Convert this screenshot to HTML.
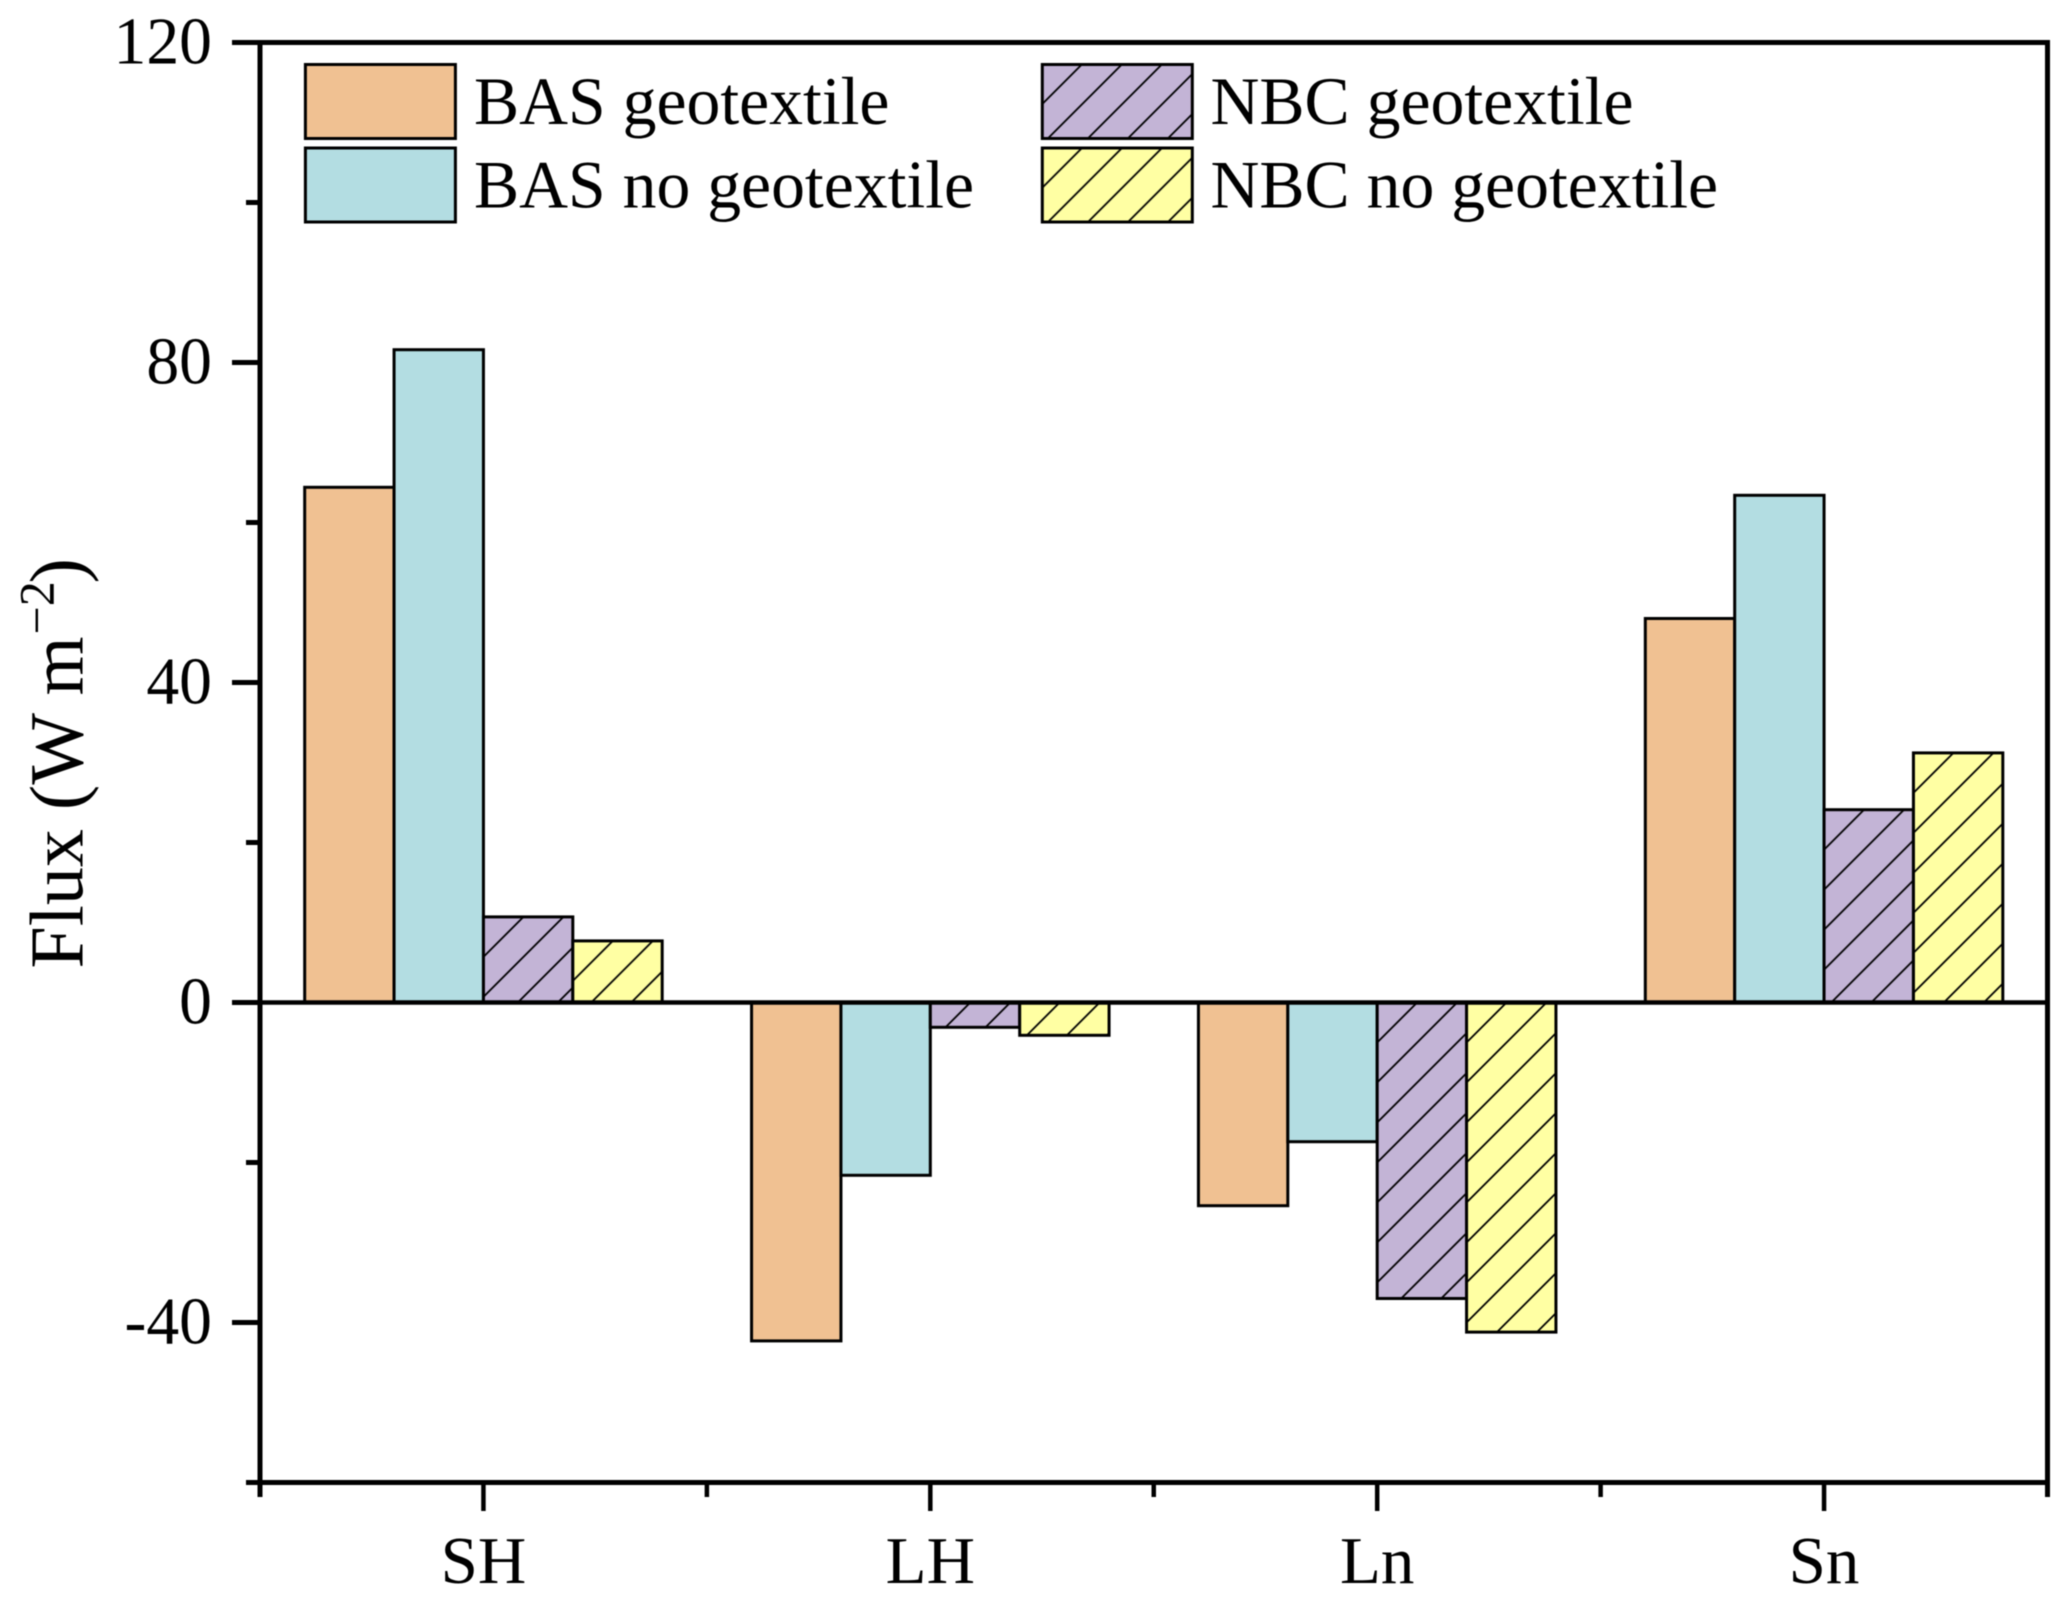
<!DOCTYPE html>
<html lang="en">
<head>
<meta charset="utf-8">
<title>Flux bar chart</title>
<style>
  html, body { margin: 0; padding: 0; background: #fff; }
  svg { display: block; filter: blur(0.5px); }
  text { font-family: "Liberation Serif", "Times New Roman", serif; fill: #000; }
</style>
</head>
<body>
<svg id="chart" xmlns="http://www.w3.org/2000/svg" width="2067" height="1601" viewBox="0 0 2067 1601">
  <defs id="defs">
    <pattern id="leg-h1" patternUnits="userSpaceOnUse" width="40" height="40" x="1042.3" y="64">
      <rect width="40" height="40" fill="#C3B4D6"/>
      <path d="M-2 42L42 -2M-2 2L2 -2M38 42L42 38" stroke="#000" stroke-width="1.8" fill="none"/>
    </pattern>
    <pattern id="leg-h2" patternUnits="userSpaceOnUse" width="40" height="40" x="1042.3" y="147.7">
      <rect width="40" height="40" fill="#FFFFA3"/>
      <path d="M-2 42L42 -2M-2 2L2 -2M38 42L42 38" stroke="#000" stroke-width="1.8" fill="none"/>
    </pattern>
  </defs>
  <rect width="2067" height="1601" fill="#fff"/>
  <g id="bars"></g>
  <g id="axes"></g>
  <g id="legend">
    <g>
      <rect x="305.4" y="64.5" width="150" height="74" fill="#F0C192" stroke="#000" stroke-width="3"/>
      <text x="474" y="124" font-size="67.7">BAS geotextile</text>
    </g>
    <g>
      <rect x="305.4" y="148" width="150" height="74" fill="#B3DDE2" stroke="#000" stroke-width="3"/>
      <text x="474" y="207.5" font-size="67.7">BAS no geotextile</text>
    </g>
    <g>
      <rect x="1042.3" y="64.5" width="150" height="74" fill="url(#leg-h1)" stroke="#000" stroke-width="3"/>
      <text x="1210.5" y="124" font-size="67.7">NBC geotextile</text>
    </g>
    <g>
      <rect x="1042.3" y="148" width="150" height="74" fill="url(#leg-h2)" stroke="#000" stroke-width="3"/>
      <text x="1210.5" y="207.5" font-size="67.7">NBC no geotextile</text>
    </g>
  </g>
  <text transform="translate(82.7,968.5) rotate(-90)" font-size="76"><tspan x="0" y="0">Flux (W m</tspan><tspan x="334" y="-29.4" font-size="50">&#8722;2</tspan><tspan x="385" y="0">)</tspan></text>
</svg>
<script>
// Chart data
const categories = ["SH", "LH", "Ln", "Sn"];
const basGeotextile = [64.4, -42.3, -25.4, 48.0];
const basNoGeotextile = [81.6, -21.6, -17.4, 63.4];
const nbcGeotextile = [10.7, -3.1, -37.0, 24.1];
const nbcNoGeotextile = [7.7, -4.1, -41.2, 31.2];
const yMajorTicks = [120, 80, 40, 0, -40];
const yMinorTicks = [100, 60, 20, -20, -60];

const NS = "http://www.w3.org/2000/svg";
const svg = document.getElementById("chart");
const defs = document.getElementById("defs");
const barsG = document.getElementById("bars");
const axesG = document.getElementById("axes");

const plotLeft = 260, plotRight = 2047.5;
const yZero = 1002.5, pxPerUnit = 8;
const bandW = (plotRight - plotLeft) / categories.length;
const barW = bandW * 0.2;
function yScale(v) { return yZero - v * pxPerUnit; }
function xCenter(i) { return plotLeft + (i + 0.5) * bandW; }

function mk(tag, attrs, parent) {
  const el = document.createElementNS(NS, tag);
  for (const k in attrs) el.setAttribute(k, attrs[k]);
  parent.appendChild(el);
  return el;
}

const seriesList = [
  { key: "bas-geotextile", values: basGeotextile, fill: "#F0C192", hatch: false },
  { key: "bas-no-geotextile", values: basNoGeotextile, fill: "#B3DDE2", hatch: false },
  { key: "nbc-geotextile", values: nbcGeotextile, fill: "#C3B4D6", hatch: true },
  { key: "nbc-no-geotextile", values: nbcNoGeotextile, fill: "#FFFFA3", hatch: true }
];

seriesList.forEach(function (s, si) {
  s.values.forEach(function (v, ci) {
    const x = xCenter(ci) + (si - 2) * barW;
    const top = Math.min(yScale(v), yZero);
    const h = Math.abs(yScale(v) - yZero);
    let fill = s.fill;
    if (s.hatch) {
      const id = "hatch-" + si + "-" + ci;
      const p = mk("pattern", { id: id, patternUnits: "userSpaceOnUse", width: 40, height: 40, x: x, y: top }, defs);
      mk("rect", { width: 40, height: 40, fill: s.fill }, p);
      mk("path", { d: "M-2 42L42 -2M-2 2L2 -2M38 42L42 38", stroke: "#000", "stroke-width": 1.8, fill: "none" }, p);
      fill = "url(#" + id + ")";
    }
    const r = mk("rect", { x: x, y: top, width: barW, height: h, fill: fill, stroke: "#000", "stroke-width": 3 }, barsG);
    
    
  });
});

function line(x1, y1, x2, y2, w, name) {
  const l = mk("line", { x1: x1, y1: y1, x2: x2, y2: y2, stroke: "#000", "stroke-width": w }, axesG);
  
  
  return l;
}

const axisBottomY = yScale(-60), axisTopY = yScale(120);

line(plotLeft, axisTopY - 2.5, plotLeft, 1497, 5, "y-axis-line");
line(plotRight, axisTopY - 2.5, plotRight, 1497, 5, "right-axis-line");
line(plotLeft, axisTopY, plotRight + 2.5, axisTopY, 5, "top-axis-line");
line(plotLeft, axisBottomY, plotRight + 2.5, axisBottomY, 5, "x-axis-line");
line(plotLeft, yZero, plotRight, yZero, 4.5, "zero-line");

yMajorTicks.forEach(function (t) {
  line(232, yScale(t), plotLeft, yScale(t), 5, "y-major-tick");
  const lab = mk("text", { x: 0, y: 0, "font-size": 67, "text-anchor": "end", transform: "translate(212," + (yScale(t) + 21) + ") scale(0.98,1)" }, axesG);
  lab.textContent = String(t);
  
  
});
yMinorTicks.forEach(function (t) {
  line(246, yScale(t), plotLeft, yScale(t), 5, "y-minor-tick");
});

categories.forEach(function (c, i) {
  line(xCenter(i), axisBottomY, xCenter(i), 1511, 4.5, "x-major-tick");
  if (i > 0) line(plotLeft + i * bandW, axisBottomY, plotLeft + i * bandW, 1497, 4.5, "x-minor-tick");
  const lab = mk("text", { x: xCenter(i), y: 1583, "font-size": 67, "text-anchor": "middle" }, axesG);
  lab.textContent = c;
  
  
});
</script>
</body>
</html>
